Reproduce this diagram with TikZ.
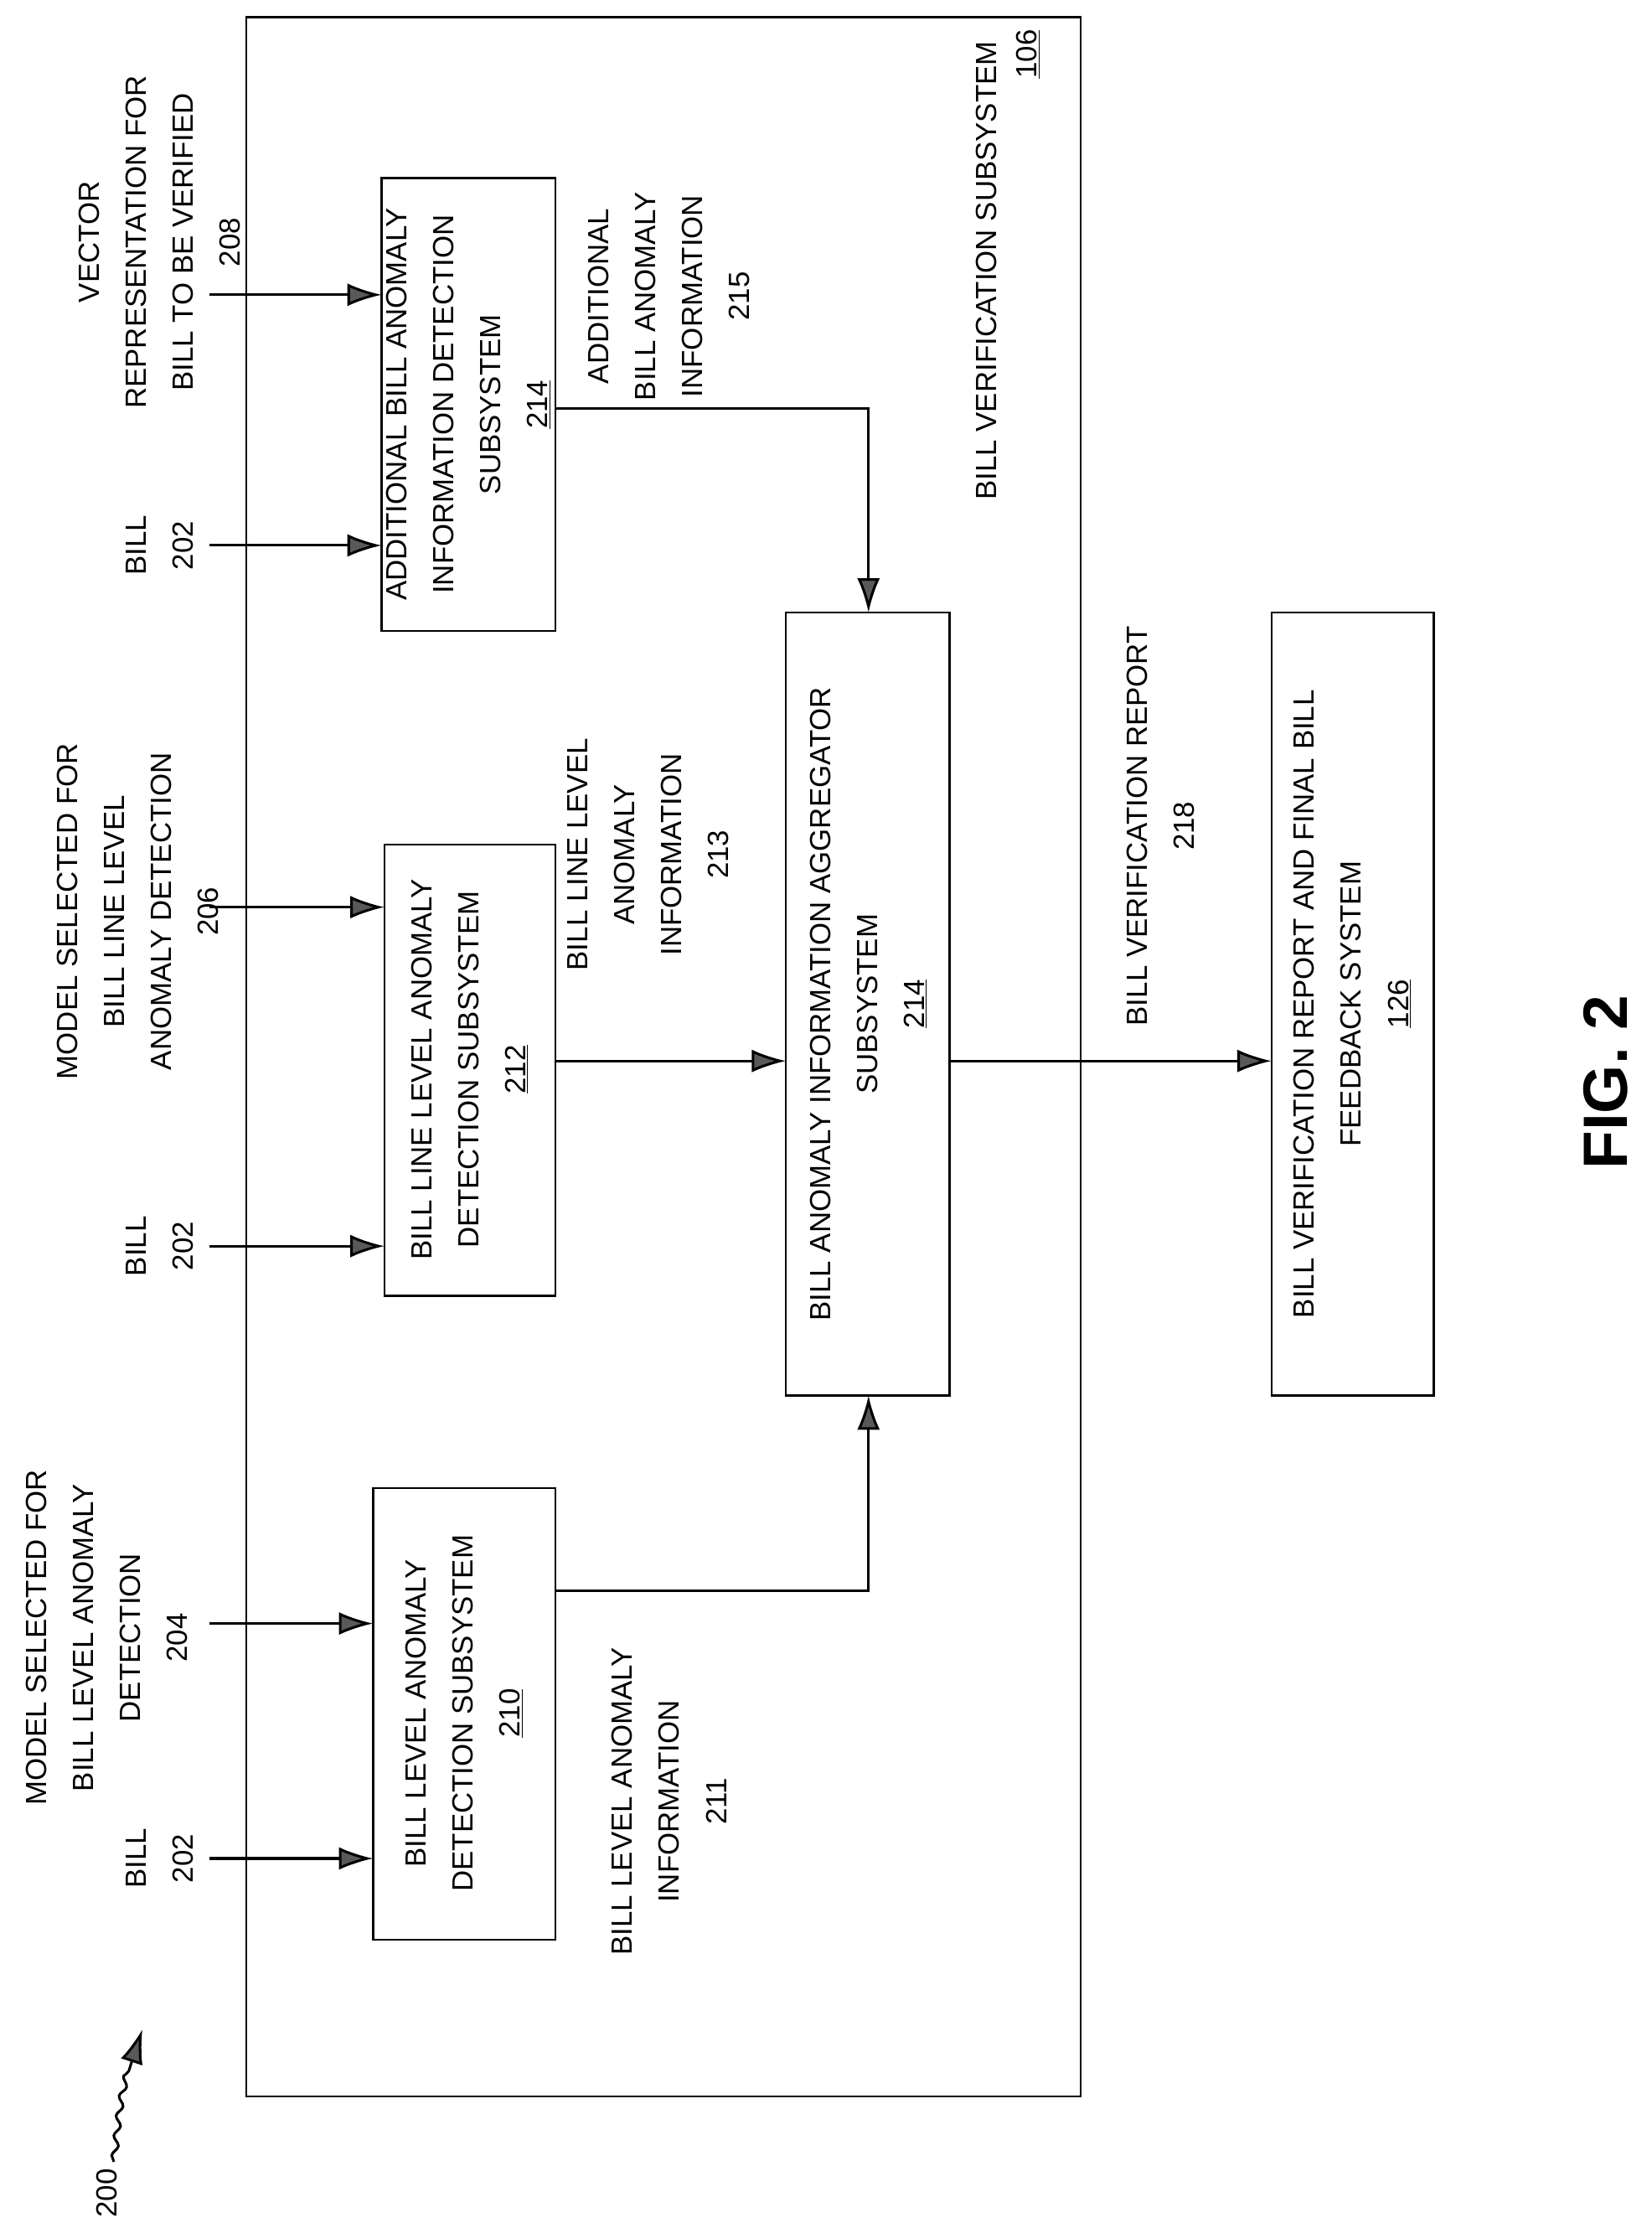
\documentclass[tikz,border=0pt]{standalone}
\usepackage{fontspec}
\setmainfont{Liberation Sans}
\usetikzlibrary{arrows.meta,decorations.pathmorphing}
\begin{document}
\begin{tikzpicture}[x=1pt,y=-1pt,
  box/.style={draw,line width=1.5pt},
  lbl/.style={rotate=90,align=center,font=\fontsize{20.5}{33}\selectfont,inner sep=0pt},
  arr/.style={line width=1.8pt,-{Latex[length=24pt,width=16pt,fill=gray!70!black]}}]
\useasboundingbox (0,0) rectangle (1160,1568);
\draw[box] (173,12) rectangle (759,1472);
\node[lbl] at (693,190) {BILL VERIFICATION SUBSYSTEM};
\node[lbl] at (722,38) {\underline{106}};
% boxes
\draw[box] (262,1045) rectangle (390,1362); \node[lbl] (b210) at (326,1203) {BILL LEVEL ANOMALY\\DETECTION SUBSYSTEM\\\underline{210}};
\draw[box] (270,593) rectangle (390,910); \node[lbl] (b212) at (330,751) {BILL LINE LEVEL ANOMALY\\DETECTION SUBSYSTEM\\\underline{212}};
\draw[box] (268,125) rectangle (390,443); \node[lbl] (b214a) at (329,284) {ADDITIONAL BILL ANOMALY\\INFORMATION DETECTION\\SUBSYSTEM\\\underline{214}};
\draw[box] (552,430) rectangle (667,980); \node[lbl] (agg) at (610,705) {BILL ANOMALY INFORMATION AGGREGATOR\\SUBSYSTEM\\\underline{214}};
\draw[box] (893,430) rectangle (1007,980); \node[lbl] (fb) at (950,705) {BILL VERIFICATION REPORT AND FINAL BILL\\FEEDBACK SYSTEM\\\underline{126}};
% input labels
\node[lbl] (i1) at (112,1305) {BILL\\202};
\node[lbl] (i2) at (75,1150) {MODEL SELECTED FOR\\BILL LEVEL ANOMALY\\DETECTION\\204};
\node[lbl] (i3) at (112,875) {BILL\\202};
\node[lbl] (i4) at (97,640) {MODEL SELECTED FOR\\BILL LINE LEVEL\\ANOMALY DETECTION\\206};
\node[lbl] (i5) at (112,383) {BILL\\202};
\node[lbl] (i6) at (112,170) {VECTOR\\REPRESENTATION FOR\\BILL TO BE VERIFIED\\208};
\node[lbl] at (470,1265) {BILL LEVEL ANOMALY\\INFORMATION\\211};
\node[lbl] at (455,600) {BILL LINE LEVEL\\ANOMALY\\INFORMATION\\213};
\node[lbl] at (470,208) {ADDITIONAL\\BILL ANOMALY\\INFORMATION\\215};
\node[lbl] at (815,580) {BILL VERIFICATION REPORT\\218};
\node[rotate=90,font=\fontsize{44}{50}\selectfont\bfseries] at (1128,760) {FIG. 2};
\node[lbl] (n200) at (75,1540) {200};
% arrows
\coordinate (s1) at (147,1305); \coordinate (e1) at (262,1305);
\coordinate (s2) at (147,1140); \coordinate (e2) at (262,1140);
\coordinate (s3) at (147,875); \coordinate (e3) at (270,875);
\coordinate (s4) at (147,637); \coordinate (e4) at (270,637);
\coordinate (s5) at (147,383); \coordinate (e5) at (268,383);
\coordinate (s6) at (147,207); \coordinate (e6) at (268,207);
\foreach \i in {1,...,6} \draw[arr] (s\i) -- (e\i);
\draw[arr] (390,1117) -- (610,1117) -- (610,980);
\draw[arr] (390,745) -- (552,745);
\draw[arr] (390,287) -- (610,287) -- (610,430);
\draw[arr] (667,745) -- (893,745);
\draw[arr,decorate,decoration={snake,amplitude=2pt,segment length=14pt,post length=24pt}] (80,1518) .. controls (85,1470) .. (100,1425);
\end{tikzpicture}
\end{document}
